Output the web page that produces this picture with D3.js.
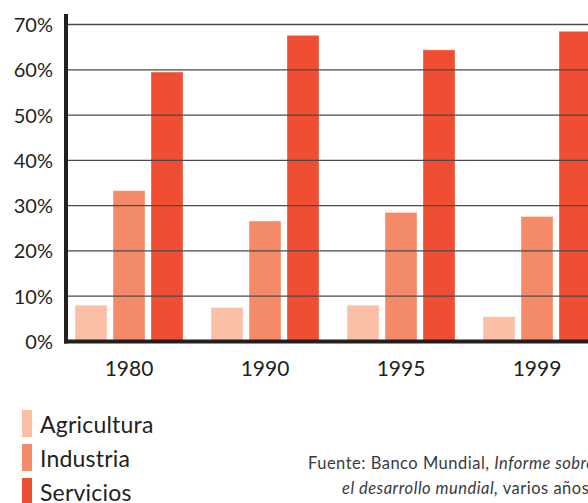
<!DOCTYPE html>
<html>
<head>
<meta charset="utf-8">
<script src="https://cdn.jsdelivr.net/npm/d3@7"></script>
<style>
  html, body { margin: 0; padding: 0; background: #fff; }
  svg { display: block; font-family: Lato, "Open Sans", sans-serif; }
</style>
</head>
<body>
<svg id="chart" width="588" height="503"></svg>
<script>
const years = ["1980", "1990", "1995", "1999"];
const sectors = ["Agricultura", "Industria", "Servicios"];
const agricultura = [8, 7.5, 8, 5.5];
const industria = [33.3, 26.6, 28.5, 27.6];
const servicios = [59.5, 67.6, 64.4, 68.5];
const yTicks = [0, 10, 20, 30, 40, 50, 60, 70];
const colors = ["#fbbfa6", "#f58a68", "#ef4e32"];

const seriesValues = [agricultura, industria, servicios];
const table = years.map((yr, i) => ({ year: yr, values: sectors.map((s, j) => ({ sector: s, value: seriesValues[j][i] })) }));

const svg = d3.select("#chart");
const W = 588;
const ink = "#231f20";

const x0 = d3.scaleBand().domain(years).range([66, 600]).paddingInner(28 / 136).paddingOuter(9 / 136);
const x1 = d3.scaleBand().domain(sectors).range([0, x0.bandwidth()]).paddingInner(6 / 38).paddingOuter(0);
const y = d3.scaleLinear().domain([0, 70]).range([341.5, 24.5]);
const color = d3.scaleOrdinal().domain(sectors).range(colors);

// bars
const g = svg.append("g");
g.selectAll("g.grp").data(table).join("g")
  .attr("transform", d => `translate(${x0(d.year)},0)`)
  .selectAll("rect").data(d => d.values).join("rect")
  .attr("x", d => x1(d.sector))
  .attr("width", x1.bandwidth())
  .attr("y", d => y(d.value))
  .attr("height", d => y(0) - y(d.value))
  .attr("fill", d => color(d.sector))
  .attr("stroke", "rgba(255,255,255,0.35)")
  .attr("stroke-width", 1);

// gridlines (over bars)
svg.append("g").selectAll("line").data(yTicks.filter(t => t > 0)).join("line")
  .attr("x1", 66).attr("x2", W)
  .attr("y1", d => y(d)).attr("y2", d => y(d))
  .attr("stroke", "#4a4a4a").attr("stroke-width", 1.3);

// y axis line and baseline
svg.append("line").attr("x1", 66).attr("x2", 66).attr("y1", 14).attr("y2", 343.5)
  .attr("stroke", ink).attr("stroke-width", 4);
svg.append("line").attr("x1", 64).attr("x2", W).attr("y1", y(0)).attr("y2", y(0))
  .attr("stroke", ink).attr("stroke-width", 4);

// y tick labels
svg.append("g").selectAll("text").data(yTicks).join("text")
  .attr("x", 53).attr("y", d => y(d) + 7.5)
  .attr("text-anchor", "end")
  .attr("font-size", 20).attr("fill", ink)
  .text(d => d + "%");

// x labels
svg.append("g").selectAll("text").data(years).join("text")
  .attr("x", d => x0(d) + x0.bandwidth() / 2).attr("y", 375.5)
  .attr("text-anchor", "middle")
  .attr("font-size", 21).attr("fill", ink)
  .text(d => d);

// legend
const legY = [410, 444, 478];
const leg = svg.append("g").selectAll("g").data(sectors).join("g");
leg.append("rect").attr("x", 22).attr("width", 10)
  .attr("y", (d, i) => legY[i]).attr("height", 27)
  .attr("fill", d => color(d));
leg.append("text").attr("x", 40).attr("y", (d, i) => legY[i] + 23)
  .attr("font-size", 23).attr("letter-spacing", 0.2).attr("fill", ink)
  .text(d => d);

// source
const src = svg.append("g").attr("font-size", 16.5).attr("letter-spacing", 0.5).attr("fill", "#3a3a3a");
const t1 = src.append("text").attr("x", 308).attr("y", 469);
t1.append("tspan").text("Fuente: Banco Mundial, ");
t1.append("tspan").attr("font-style", "italic").text("Informe sobre");
const t2 = src.append("text").attr("x", 342).attr("y", 494);
t2.append("tspan").attr("font-style", "italic").text("el desarrollo mundial,");
t2.append("tspan").text(" varios años");
</script>
</body>
</html>
